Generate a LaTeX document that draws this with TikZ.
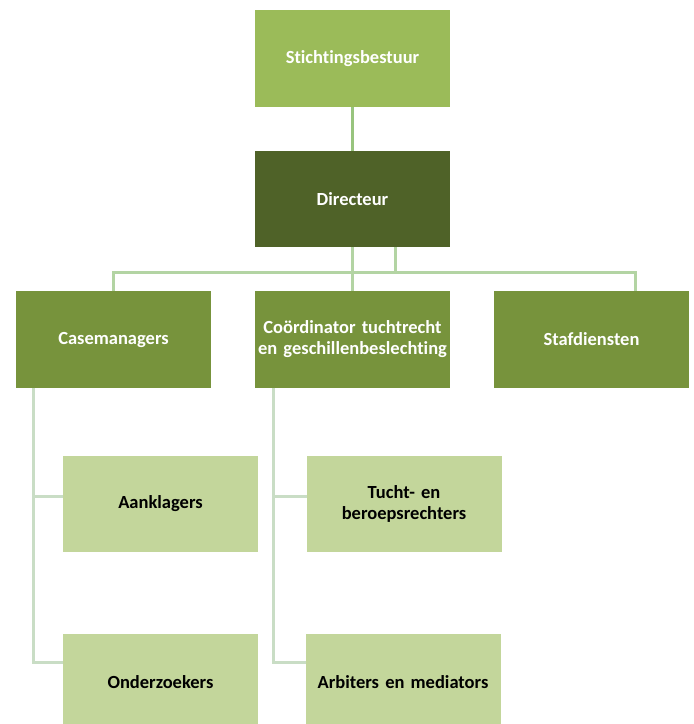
\documentclass[tikz,border=0pt]{standalone}
\usepackage{fontspec}
\setmainfont{Carlito}[Ligatures=NoCommon]
\usetikzlibrary{positioning}
\definecolor{bestuurgreen}{HTML}{9BBB59}
\definecolor{dirgreen}{HTML}{4F6228}
\definecolor{unitgreen}{HTML}{77933C}
\definecolor{subgreen}{HTML}{C3D69B}
\definecolor{topline}{HTML}{98C47E}
\definecolor{busline}{HTML}{B3D4A3}
\definecolor{subline}{HTML}{C9DDC5}
\begin{document}
\begin{tikzpicture}[x=1pt, y=1pt, node distance=44pt,
    box/.style={rectangle, minimum width=195pt, minimum height=96.5pt, inner sep=0pt, outer sep=0pt,
                text width=190pt, align=center, font=\fontsize{18.5}{21}\selectfont\bfseries},
    top node/.style={box, fill=bestuurgreen, text=white},
    dir node/.style={box, fill=dirgreen, text=white},
    unit node/.style={box, fill=unitgreen, text=white},
    sub node/.style={box, fill=subgreen, text=black},
    top line/.style={draw=topline, line width=3pt},
    bus line/.style={draw=busline, line width=3pt},
    sub line/.style={draw=subline, line width=3pt}]

    \useasboundingbox (0,0) rectangle (694,-724);

    \node[top node]  (bestuur) at (352.5,-58.5) {Stichtingsbestuur};
    \node[dir node]  (dir)   [below=of bestuur] {Directeur};
    \node[unit node] (coord) [below=of dir]     {Coördinator tuchtrecht\\en geschillenbeslechting};
    \node[unit node] (case)  [left=of coord]    {Casemanagers};
    \node[unit node] (staf)  [right=of coord]   {Stafdiensten};

    \node[sub node] (aan)   at (160.5,-504) {Aanklagers};
    \node[sub node] (onder) at (160.5,-682) {Onderzoekers};
    \node[sub node] (tucht) at (404,-504)   {Tucht- en\\beroepsrechters};
    \node[sub node] (arb)   at (403,-682)   {Arbiters en mediators};

    \coordinate (busL) at (113,-272);
    \coordinate (busR) at (635,-272);
    \coordinate (caseleg) at ([xshift=-80pt]case.south);
    \coordinate (coordleg) at ([xshift=-79.5pt]coord.south);
    \coordinate (aanin) at ([yshift=8pt]aan.west);
    \coordinate (onderin) at ([yshift=20pt]onder.west);
    \coordinate (tuchtin) at ([yshift=8pt]tucht.west);
    \coordinate (arbin) at ([yshift=20pt]arb.west);
    \coordinate (assist) at ([xshift=42.5pt]dir.south);

    \path[top line] (bestuur) -- (dir);
    \path[bus line] (case.north) -- (case.north |- busL) -- (busR) -- (busR |- staf.north);
    \path[bus line] (dir) -- (coord);
    \path[bus line] (assist) -- (assist |- busL);

    \path[sub line] (caseleg) |- (onderin);
    \path[sub line] (caseleg |- aanin) -- (aanin);
    \path[sub line] (coordleg) |- (arbin);
    \path[sub line] (coordleg |- tuchtin) -- (tuchtin);
\end{tikzpicture}
\end{document}
